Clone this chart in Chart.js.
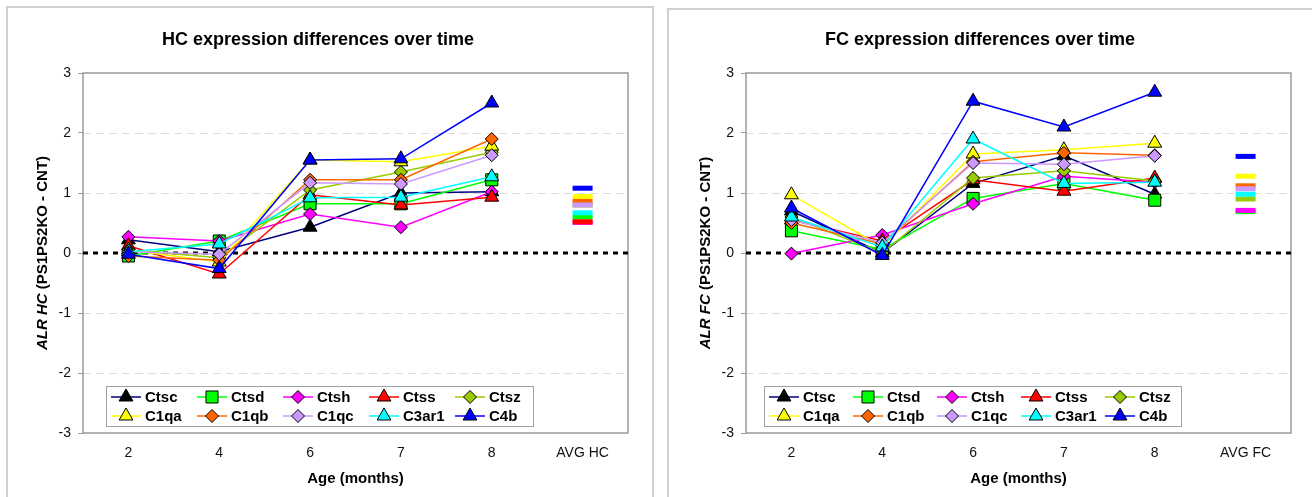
<!DOCTYPE html>
<html>
<head>
<meta charset="utf-8">
<script src="https://cdn.jsdelivr.net/npm/chart.js@4.4.1/dist/chart.umd.min.js"></script>
<style>
body { margin: 0; background: #fff; overflow: hidden; width: 1312px; height: 497px; position: relative; }
.panel { position: absolute; border: 2px solid #d0d0d0; box-sizing: border-box; background: #fff; }
#panelHC { left: 6px; top: 6px; width: 648px; height: 495px; }
#panelFC { left: 667px; top: 8px; width: 660px; height: 495px; }
canvas { position: absolute; left: 0; top: 0; }
</style>
</head>
<body>
<div class="panel" id="panelHC"><canvas id="chartHC" width="644" height="489"></canvas></div>
<div class="panel" id="panelFC"><canvas id="chartFC" width="644" height="487"></canvas></div>
<script>
var FONT = '"Liberation Sans", Arial, sans-serif';

// x categories (months), last one is the average column
var agesHC = ['2', '4', '6', '7', '8', 'AVG HC'];
var agesFC = ['2', '4', '6', '7', '8', 'AVG FC'];
var genes = ['Ctsc', 'Ctsd', 'Ctsh', 'Ctss', 'Ctsz', 'C1qa', 'C1qb', 'C1qc', 'C3ar1', 'C4b'];

// HC values at 2, 4, 6, 7, 8 months
var hcCtsc  = [0.22, 0.02, 0.43, 1.00, 1.02];
var hcCtsd  = [-0.05, 0.20, 0.82, 0.82, 1.22];
var hcCtsh  = [0.27, 0.20, 0.65, 0.43, 1.02];
var hcCtss  = [0.12, -0.35, 0.97, 0.80, 0.93];
var hcCtsz  = [0.05, -0.08, 1.05, 1.35, 1.68];
var hcC1qa  = [0.05, -0.15, 1.55, 1.52, 1.78];
var hcC1qb  = [-0.05, -0.12, 1.22, 1.22, 1.90];
var hcC1qc  = [0.02, -0.02, 1.17, 1.15, 1.63];
var hcC3ar1 = [0.02, 0.15, 0.92, 0.93, 1.27];
var hcC4b   = [-0.02, -0.26, 1.55, 1.57, 2.50];
// AVG HC column, in gene order
var hcAvg = [null, 0.60, 0.51, 0.52, 0.80, 0.94, 0.86, 0.80, 0.67, 1.08];

// FC values at 2, 4, 6, 7, 8 months
var fcCtsc  = [0.70, 0.00, 1.16, 1.62, 0.98];
var fcCtsd  = [0.37, 0.06, 0.91, 1.16, 0.88];
var fcCtsh  = [-0.01, 0.30, 0.82, 1.28, 1.18];
var fcCtss  = [0.55, 0.20, 1.22, 1.03, 1.25];
var fcCtsz  = [0.60, 0.00, 1.25, 1.37, 1.20];
var fcC1qa  = [0.97, 0.10, 1.65, 1.72, 1.83];
var fcC1qb  = [0.50, 0.15, 1.52, 1.67, 1.63];
var fcC1qc  = [0.55, 0.17, 1.50, 1.48, 1.62];
var fcC3ar1 = [0.60, 0.10, 1.90, 1.16, 1.18];
var fcC4b   = [0.75, -0.04, 2.53, 2.10, 2.68];
// AVG FC column, in gene order
var fcAvg = [null, 0.69, 0.71, null, 0.90, 1.28, 1.12, 1.07, 0.98, 1.61];

var lineColors = ['#000080', '#00ff00', '#ff00ff', '#ff0000', '#99cc00', '#ffff00', '#ff6600', '#cc99ff', '#00ffff', '#0000ff'];
var fillColors = ['#000000', '#00ff00', '#ff00ff', '#ff0000', '#99cc00', '#ffff00', '#ff6600', '#cc99ff', '#00ffff', '#0000ff'];
var markers = ['triangle', 'rect', 'rectRot', 'triangle', 'rectRot', 'triangle', 'rectRot', 'rectRot', 'triangle', 'triangle'];
var markerRadius = { triangle: 8, rect: 8.5, rectRot: 6.5 };

function makeDatasets(values, avg) {
  return genes.map(function(g, i) {
    var r = markerRadius[markers[i]];
    return {
      label: g,
      data: values[i].concat([avg[i]]),
      borderColor: lineColors[i],
      backgroundColor: fillColors[i],
      borderWidth: 1.5,
      order: genes.length - i,
      tension: 0,
      pointStyle: function(c) { return c.dataIndex === 5 ? 'line' : markers[i]; },
      pointRadius: function(c) { return c.dataIndex === 5 ? 10 : r; },
      pointBorderWidth: function(c) { return c.dataIndex === 5 ? 5 : 1; },
      pointBorderColor: function(c) { return c.dataIndex === 5 ? lineColors[i] : '#000'; },
      pointBackgroundColor: fillColors[i],
      segment: {
        borderColor: function(c) { return c.p1DataIndex === 5 ? 'rgba(0,0,0,0)' : undefined; }
      }
    };
  });
}

function drawMarker(ctx, style, x, y, r) {
  ctx.beginPath();
  if (style === 'triangle') {
    for (var k = 0; k < 3; k++) {
      var a = k * 2 * Math.PI / 3;
      ctx.lineTo(x + Math.sin(a) * r, y - Math.cos(a) * r);
    }
    ctx.closePath();
  } else if (style === 'rect') {
    var s = r * Math.SQRT1_2;
    ctx.rect(x - s, y - s, 2 * s, 2 * s);
  } else {
    ctx.moveTo(x - r, y); ctx.lineTo(x, y - r); ctx.lineTo(x + r, y); ctx.lineTo(x, y + r);
    ctx.closePath();
  }
  ctx.fill();
  ctx.stroke();
}

// dashed gridlines, zero line and plot frame
var plotFrame = {
  id: 'plotFrame',
  beforeDatasetsDraw: function(chart) {
    var a = chart.chartArea, ys = chart.scales.y, ctx = chart.ctx;
    ctx.save();
    ctx.lineWidth = 1;
    ctx.strokeStyle = '#dcdcdc';
    ctx.setLineDash([8, 5]);
    [-2, -1, 1, 2].forEach(function(v) {
      var py = Math.round(ys.getPixelForValue(v)) + 0.5;
      ctx.beginPath(); ctx.moveTo(a.left, py); ctx.lineTo(a.right, py); ctx.stroke();
    });
    ctx.strokeStyle = '#9a9a9a';
    ctx.lineWidth = 1.5;
    ctx.setLineDash([]);
    ctx.strokeRect(a.left, a.top, a.right - a.left, a.bottom - a.top);
    var p0 = ys.getPixelForValue(0);
    ctx.strokeStyle = '#000';
    ctx.lineWidth = 3;
    ctx.setLineDash([5, 5]);
    ctx.beginPath(); ctx.moveTo(a.left, p0); ctx.lineTo(a.right + 2, p0); ctx.stroke();
    ctx.restore();
  }
};

// y title with italic first part, and legend box inside the plot
var extras = {
  id: 'extras',
  afterDatasetsDraw: function(chart, args, opts) {
    var a = chart.chartArea, ctx = chart.ctx;
    ctx.save();
    // y axis title
    ctx.translate(a.left - 40, (a.top + a.bottom) / 2);
    ctx.rotate(-Math.PI / 2);
    ctx.fillStyle = '#000';
    ctx.textBaseline = 'middle';
    ctx.font = 'italic bold 15px ' + FONT;
    var w1 = ctx.measureText(opts.yItalic).width;
    ctx.font = 'bold 15px ' + FONT;
    var w2 = ctx.measureText(opts.yRest).width;
    ctx.font = 'italic bold 15px ' + FONT;
    ctx.fillText(opts.yItalic, -(w1 + w2) / 2, 0);
    ctx.font = 'bold 15px ' + FONT;
    ctx.fillText(opts.yRest, -(w1 + w2) / 2 + w1, 0);
    ctx.restore();

    // legend
    ctx.save();
    var bx = a.left + opts.legLeft, bh = 40, by = a.bottom - opts.legBottom - bh;
    var bw = opts.pitch * 5 - 3;
    ctx.fillStyle = '#fff';
    ctx.fillRect(bx, by, bw, bh);
    ctx.strokeStyle = '#a0a0a0';
    ctx.lineWidth = 1;
    ctx.strokeRect(bx + 0.5, by + 0.5, bw, bh);
    ctx.font = 'bold 15px ' + FONT;
    ctx.textBaseline = 'middle';
    genes.forEach(function(g, i) {
      var col = i % 5, row = Math.floor(i / 5);
      var ix = bx + 5 + col * opts.pitch;
      var iy = by + 11 + row * 19;
      ctx.strokeStyle = lineColors[i];
      ctx.lineWidth = 1.5;
      ctx.beginPath(); ctx.moveTo(ix, iy); ctx.lineTo(ix + 30, iy); ctx.stroke();
      ctx.fillStyle = fillColors[i];
      ctx.strokeStyle = '#000';
      ctx.lineWidth = 1;
      drawMarker(ctx, markers[i], ix + 15, iy, markerRadius[markers[i]]);
      ctx.fillStyle = '#000';
      ctx.fillText(g, ix + 34, iy + 1);
    });
    ctx.restore();
  }
};

function makeChart(id, labels, datasets, cfg) {
  return new Chart(document.getElementById(id), {
    type: 'line',
    data: { labels: labels, datasets: datasets },
    plugins: [plotFrame, extras],
    options: {
      responsive: false,
      animation: false,
      events: [],
      layout: { padding: { left: 0, right: cfg.padRight, top: 0, bottom: 0 } },
      plugins: {
        legend: { display: false },
        tooltip: { enabled: false },
        title: {
          display: true, text: cfg.title, color: '#000',
          font: { family: FONT, size: 18, weight: 'bold' },
          padding: { top: cfg.titleTop, bottom: cfg.titleBottom }
        },
        extras: { yItalic: cfg.yItalic, yRest: ' (PS1PS2KO - CNT)', legLeft: cfg.legLeft, legBottom: 7, pitch: cfg.pitch }
      },
      scales: {
        x: {
          type: 'category', offset: true,
          grid: { display: false, drawTicks: false },
          border: { display: false },
          ticks: { color: '#111', font: { family: FONT, size: 14 }, padding: 12, autoSkip: false, maxRotation: 0 },
          title: {
            display: true, text: 'Age (months)', color: '#000',
            font: { family: FONT, size: 15, weight: 'bold' },
            padding: { top: 0, bottom: 9.6 }
          },
          afterFit: function(s) { s.height = cfg.xHeight; }
        },
        y: {
          min: -3, max: 3,
          ticks: { stepSize: 1, color: '#111', font: { family: FONT, size: 14 }, padding: 7 },
          grid: { drawOnChartArea: false, drawTicks: true, tickLength: 5, color: '#9a9a9a' },
          border: { display: false },
          afterFit: function(s) { s.width = cfg.yWidth; }
        }
      }
    }
  });
}

makeChart('chartHC', agesHC,
  makeDatasets([hcCtsc, hcCtsd, hcCtsh, hcCtss, hcCtsz, hcC1qa, hcC1qb, hcC1qc, hcC3ar1, hcC4b], hcAvg),
  { title: 'HC expression differences over time', yItalic: 'ALR HC', padRight: 24, yWidth: 75,
    xHeight: 64, titleTop: 21.2, titleBottom: 22.2, legLeft: 23, pitch: 86 });

makeChart('chartFC', agesFC,
  makeDatasets([fcCtsc, fcCtsd, fcCtsh, fcCtss, fcCtsz, fcC1qa, fcC1qb, fcC1qc, fcC3ar1, fcC4b], fcAvg),
  { title: 'FC expression differences over time', yItalic: 'ALR FC', padRight: 22, yWidth: 77,
    xHeight: 64, titleTop: 19.2, titleBottom: 22.2, legLeft: 18, pitch: 84 });
</script>
</body>
</html>
